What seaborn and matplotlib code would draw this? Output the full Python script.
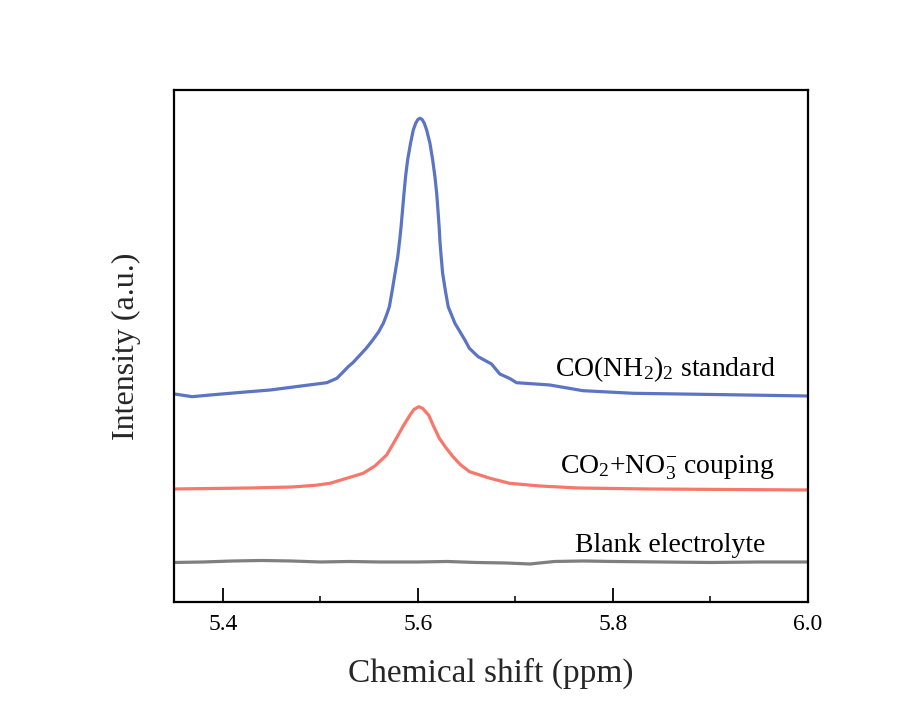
import matplotlib
matplotlib.use("Agg")
import matplotlib.pyplot as plt
import seaborn as sns
import pandas as pd
from matplotlib.ticker import MultipleLocator

# ---- data ----
urea_shift = [5.3505, 5.3686, 5.3873, 5.4147, 5.4487, 5.4828, 5.5067, 5.5170, 5.5237, 5.5288,
              5.5336, 5.5391, 5.5469, 5.5538, 5.5597, 5.5646, 5.5679, 5.5708, 5.5738, 5.5766,
              5.5794, 5.5814, 5.5828, 5.5843, 5.5858, 5.5874, 5.5895, 5.5925, 5.5953, 5.5978,
              5.6000, 5.6022, 5.6044, 5.6066, 5.6090, 5.6124, 5.6152, 5.6175, 5.6193, 5.6206,
              5.6218, 5.6228, 5.6239, 5.6254, 5.6281, 5.6311, 5.6380, 5.6482, 5.6528, 5.6618,
              5.6755, 5.6840, 5.6942, 5.7011, 5.7352, 5.7692, 5.8204, 5.8886, 6.0000]
urea_int = [208.0, 205.3, 207.0, 209.3, 212.0, 216.3, 219.3, 223.7, 230.3, 235.5,
            239.5, 245.3, 253.5, 262.0, 270.0, 278.7, 287.0, 295.3, 312.0, 328.7,
            345.3, 362.0, 375.3, 392.0, 408.7, 425.3, 442.0, 458.7, 472.0, 478.7,
            482.5, 483.7, 482.5, 478.7, 472.0, 458.7, 442.0, 425.3, 408.7, 392.0,
            375.3, 358.7, 345.3, 328.7, 312.0, 295.3, 278.7, 262.0, 253.7, 245.3,
            238.0, 228.0, 223.5, 219.3, 217.0, 211.3, 208.7, 207.7, 206.0]

coup_shift = [5.350, 5.428, 5.471, 5.495, 5.510, 5.527, 5.544, 5.556, 5.568, 5.578,
              5.585, 5.592, 5.596, 5.601, 5.605, 5.611, 5.616, 5.622, 5.629, 5.636,
              5.644, 5.653, 5.674, 5.694, 5.725, 5.764, 5.837, 6.000]
coup_int = [113.0, 114.0, 115.0, 116.7, 118.7, 123.7, 128.7, 136.0, 147.0, 163.7,
            176.0, 187.0, 192.5, 195.3, 193.5, 187.0, 176.0, 163.7, 154.0, 145.3,
            137.0, 130.3, 123.7, 118.7, 116.0, 114.0, 113.0, 112.0]

blank_shift = [5.350, 5.380, 5.410, 5.440, 5.470, 5.500, 5.530, 5.560, 5.600, 5.630,
               5.660, 5.690, 5.715, 5.740, 5.770, 5.800, 5.850, 5.900, 5.950, 6.000]
blank_int = [39.5, 40.0, 41.0, 41.5, 41.0, 40.0, 40.5, 40.0, 40.0, 40.5,
             39.5, 39.0, 38.0, 40.5, 41.0, 40.5, 40.0, 39.5, 40.0, 40.0]

labels = [r"CO(NH$_2$)$_2$ standard", r"CO$_2$+NO$_3^{-}$ couping", "Blank electrolyte"]
label_x = [5.854, 5.856, 5.859]
label_y = [233, 134, 56]
x_ticks = [5.4, 5.6, 5.8, 6.0]

colors = ["#5B74C4", "#F7776A", "#7F7F7F"]

sns.set_theme(style="white")
plt.rcParams["font.family"] = ["Liberation Serif", "DejaVu Serif"]
plt.rcParams["mathtext.fontset"] = "custom"
plt.rcParams["mathtext.rm"] = "Liberation Serif"
plt.rcParams["mathtext.it"] = "Liberation Serif:italic"
plt.rcParams["mathtext.bf"] = "Liberation Serif:bold"

fig = plt.figure(figsize=(9.24, 7.13), dpi=100)
ax = fig.add_axes([0.1883, 0.1557, 0.6862, 0.7181])

series = [(urea_shift, urea_int), (coup_shift, coup_int), (blank_shift, blank_int)]
for (xs, ys), c in zip(series, colors):
    df = pd.DataFrame({"shift": xs, "intensity": ys})
    sns.lineplot(data=df, x="shift", y="intensity", color=c, linewidth=2.3, ax=ax)
for line in ax.get_lines():
    line.set_solid_joinstyle("round")
    line.set_solid_capstyle("round")

for t, x, y in zip(labels, label_x, label_y):
    ax.text(x, y, t, ha="center", va="center", fontsize=20, color="black")

ax.set_xlim(5.35, 6.0)
ax.set_ylim(0, 512)
ax.set_xticks(x_ticks)
ax.set_xticklabels([f"{v:.1f}" for v in x_ticks])
ax.xaxis.set_minor_locator(MultipleLocator(0.1))
ax.set_yticks([])
ax.tick_params(axis="x", which="major", direction="in", length=10, width=1.3,
               labelsize=17, pad=9, bottom=True, top=False, colors="black")
ax.tick_params(axis="x", which="minor", direction="in", length=4.5, width=1.3,
               bottom=True, top=False)
for s in ax.spines.values():
    s.set_visible(True)
    s.set_color("black")
    s.set_linewidth(1.6)

ax.set_xlabel("Chemical shift (ppm)", fontsize=24, labelpad=16)
ax.set_ylabel("Intensity (a.u.)", fontsize=23, labelpad=24)

fig.savefig("out.png", dpi=100, facecolor="white")
